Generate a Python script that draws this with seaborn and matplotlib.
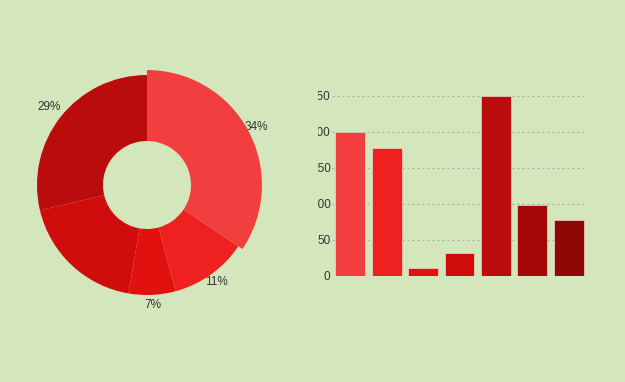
import matplotlib
matplotlib.use("Agg")
import matplotlib.pyplot as plt
import seaborn as sns
import pandas as pd
import numpy as np
from matplotlib.transforms import Bbox, TransformedBbox

# ---- data ----
pie_values = [34.4, 11.4, 6.9, 18.6, 28.7]
pie_labels = ["34%", "11%", "7%", "", "29%"]
pie_colors = ["#F23E3E", "#EF2020", "#E31010", "#D10C0C", "#BA0C0C"]

bar_categories = ["A", "B", "C", "D", "E", "F", "G"]
bar_values = [200, 178, 11, 32, 250, 99, 78]
bar_colors = ["#F23E3E", "#EF2020", "#E31010", "#D10C0C", "#BA0C0C", "#A50808", "#8F0808"]
y_ticks = [0, 50, 100, 150, 200, 250]

BG = "#D4E7BC"
TXT = "#333333"

sns.set_theme(style="white")
plt.rcParams["font.family"] = ["Liberation Sans", "DejaVu Sans"]

W, H = 625, 382
fig = plt.figure(figsize=(W / 100, H / 100), dpi=100)
fig.patch.set_facecolor(BG)

# ---- donut ----
cx, cy, R = 147, 185, 110
half = 130
axp = fig.add_axes([(cx - half) / W, (H - cy - half) / H, 2 * half / W, 2 * half / H])
axp.set_facecolor(BG)
wedges, _ = axp.pie(pie_values, colors=pie_colors, startangle=90, counterclock=False,
                    radius=1.0, wedgeprops=dict(width=66 / 110, edgecolor="none"))
wedges[0].set_radius(1.045)
wedges[0].set_width(1.045 - 44 / 110)
wedges[0].set_zorder(5)
label_r = [1.125, 1.09, 1.09, 1.1, 1.14]
for w, lab, r in zip(wedges, pie_labels, label_r):
    if not lab:
        continue
    ang = np.deg2rad((w.theta1 + w.theta2) / 2)
    axp.text(r * np.cos(ang), r * np.sin(ang), lab, ha="center", va="center",
             fontsize=8.5, color=TXT)
axp.set_xlim(-half / R, half / R)
axp.set_ylim(-half / R, half / R)
axp.set_aspect("equal")
axp.axis("off")

# ---- bars ----
x0, x1, ytop, ybot = 332, 587, 96, 276
axb = fig.add_axes([x0 / W, (H - ybot) / H, (x1 - x0) / W, (ybot - ytop) / H])
axb.set_facecolor(BG)
df = pd.DataFrame({"cat": bar_categories, "val": bar_values})
sns.barplot(data=df, x="cat", y="val", hue="cat", palette=bar_colors, legend=False,
            width=0.82, saturation=1, ax=axb, edgecolor="#E9D9C9", linewidth=0.5, zorder=3)
axb.set_ylim(0, 250)
axb.set_xlim(-0.5, 6.5)
axb.set_yticks(y_ticks)
axb.set_yticklabels([str(v) for v in y_ticks])
axb.set_xticks([])
axb.set_xlabel("")
axb.set_ylabel("")
for s in axb.spines.values():
    s.set_visible(False)
axb.tick_params(axis="y", length=0, pad=1, labelsize=8.5, labelcolor=TXT)
for yv in y_ticks:
    axb.axhline(yv, color="#A8A8A8", linestyle=(0, (1.5, 2.5)), linewidth=0.9, zorder=1)
clip = TransformedBbox(Bbox([[318 / W, 0], [1, 1]]), fig.transFigure)
for lab in axb.get_yticklabels():
    lab.set_clip_box(clip)
    lab.set_clip_on(True)

fig.savefig("out.png", dpi=100, facecolor=BG)
